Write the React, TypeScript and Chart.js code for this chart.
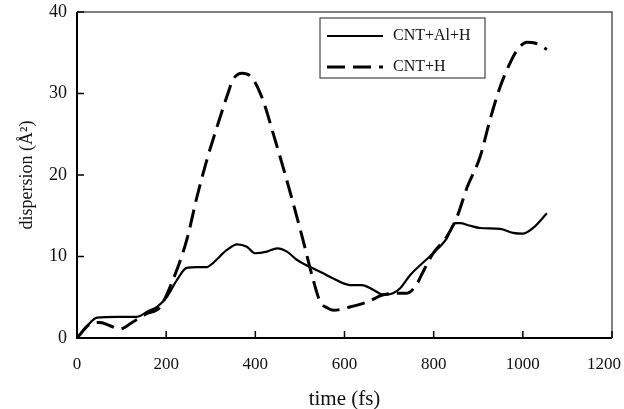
import React, { useEffect, useRef } from "react";
import { Chart, registerables } from "chart.js";

Chart.register(...registerables);

const seriesLabels = ["CNT+Al+H", "CNT+H"];

const timeAlH = [0, 20, 45, 90, 134, 160, 179, 201, 224, 246, 270, 291, 305, 336, 359, 381, 399, 426, 449, 471, 493, 523, 550, 575, 612, 639, 665, 687, 709, 725, 747, 775, 799, 829, 848, 859, 880, 904, 949, 978, 1000, 1023, 1054];
const dispAlH = [0, 1.3, 2.5, 2.6, 2.6, 3.3, 3.8, 5.0, 7.1, 8.6, 8.7, 8.7, 9.2, 10.8, 11.5, 11.2, 10.4, 10.6, 11.0, 10.6, 9.6, 8.7, 8.0, 7.3, 6.5, 6.5, 5.9, 5.3, 5.5, 6.1, 7.7, 9.2, 10.4, 12.2, 14.1, 14.1, 13.8, 13.5, 13.4, 12.9, 12.8, 13.5, 15.3];

const timeH = [0, 29, 52, 74, 96, 126, 157, 186, 215, 246, 269, 291, 314, 336, 350, 370, 393, 417, 440, 462, 485, 507, 530, 545, 561, 575, 612, 650, 687, 725, 740, 763, 776, 799, 829, 852, 875, 904, 926, 949, 971, 987, 1009, 1027, 1054];
const dispH = [0, 1.7, 1.9, 1.5, 1.1, 2.0, 3.0, 3.8, 7.1, 12.0, 17.3, 21.8, 25.9, 29.6, 31.7, 32.5, 31.9, 29.2, 25.1, 21.0, 16.5, 12.0, 7.1, 4.5, 3.7, 3.4, 3.8, 4.4, 5.3, 5.5, 5.5, 6.7, 8.1, 10.4, 12.4, 14.8, 18.5, 22.2, 26.7, 30.8, 33.7, 35.3, 36.3, 36.2, 35.4];

const xTicks = [0, 200, 400, 600, 800, 1000, 1200];
const yTicks = [0, 10, 20, 30, 40];
const xTitle = "time (fs)";
const yTitle = "dispersion (Å²)";

const FONT = "'Liberation Serif', 'DejaVu Serif', serif";

const framePlugin = {
  id: "frame",
  afterDraw(chart: any) {
    const { ctx, chartArea: a, scales, width } = chart;
    ctx.save();
    ctx.lineWidth = 1.5;
    ctx.strokeStyle = "#555";
    ctx.beginPath();
    ctx.moveTo(a.left, a.top);
    ctx.lineTo(a.right, a.top);
    ctx.lineTo(a.right, a.bottom);
    ctx.stroke();
    ctx.strokeStyle = "#000";
    ctx.lineWidth = 2;
    ctx.beginPath();
    ctx.moveTo(a.left, a.top);
    ctx.lineTo(a.left, a.bottom);
    ctx.lineTo(a.right, a.bottom);
    ctx.stroke();
    ctx.lineWidth = 1.5;
    const xs = scales.x;
    ctx.font = "17px " + FONT;
    ctx.fillStyle = "#111";
    ctx.textAlign = "center";
    ctx.textBaseline = "middle";
    xs.ticks.forEach((t: any) => {
      const px = xs.getPixelForValue(t.value);
      ctx.beginPath();
      ctx.moveTo(px, a.bottom);
      ctx.lineTo(px, a.bottom - 7);
      ctx.stroke();
      const label = String(t.value);
      const w = ctx.measureText(label).width;
      const cx = Math.min(px, width - w / 2 - 3);
      ctx.fillText(label, cx, a.bottom + 27);
    });
    const ys = scales.y;
    ys.ticks.forEach((t: any) => {
      const py = ys.getPixelForValue(t.value);
      ctx.beginPath();
      ctx.moveTo(a.left, py);
      ctx.lineTo(a.left + 7, py);
      ctx.stroke();
    });
    const lx = 320, ly = 18, lw = 165, lh = 60;
    ctx.strokeStyle = "#444";
    ctx.lineWidth = 1.2;
    ctx.strokeRect(lx, ly, lw, lh);
    ctx.font = "16px " + FONT;
    ctx.textAlign = "left";
    chart.data.datasets.forEach((ds: any, i: number) => {
      const yy = ly + 18 + i * 31;
      ctx.strokeStyle = "#000";
      ctx.lineWidth = ds.borderWidth;
      ctx.setLineDash(ds.borderDash || []);
      ctx.beginPath();
      ctx.moveTo(lx + 7, yy);
      ctx.lineTo(lx + 63, yy);
      ctx.stroke();
      ctx.setLineDash([]);
      ctx.fillText(ds.label, lx + 73, yy);
    });
    ctx.restore();
  },
};

export default function App() {
  const ref = useRef<HTMLCanvasElement | null>(null);
  useEffect(() => {
    if (!ref.current) return;
    const chart = new Chart(ref.current, {
      type: "line",
      data: {
        datasets: [
          {
            label: seriesLabels[0],
            data: timeAlH.map((x, i) => ({ x, y: dispAlH[i] })),
            borderColor: "#000",
            borderWidth: 2.2,
            pointRadius: 0,
            tension: 0.4,
            cubicInterpolationMode: "monotone",
            fill: false,
          },
          {
            label: seriesLabels[1],
            data: timeH.map((x, i) => ({ x, y: dispH[i] })),
            borderColor: "#000",
            borderWidth: 3,
            borderDash: [18, 8],
            pointRadius: 0,
            tension: 0.4,
            cubicInterpolationMode: "monotone",
            fill: false,
          },
        ],
      },
      options: {
        animation: false,
        responsive: false,
        maintainAspectRatio: false,
        layout: { padding: { left: 0, top: 12, right: 12, bottom: 0 } },
        plugins: { legend: { display: false }, tooltip: { enabled: false } },
        scales: {
          x: {
            type: "linear",
            min: 0,
            max: 1200,
            afterBuildTicks: (s: any) => {
              s.ticks = xTicks.map((v) => ({ value: v }));
            },
            afterFit: (s: any) => {
              s.height = 71;
              s.paddingLeft = 0;
              s.paddingRight = 0;
            },
            grid: { display: false, drawTicks: false },
            border: { display: false },
            ticks: { display: false },
            title: { display: true, text: xTitle, color: "#111", font: { family: FONT, size: 21 }, padding: { top: 0, bottom: -3 } },
          },
          y: {
            min: 0,
            max: 40,
            afterBuildTicks: (s: any) => {
              s.ticks = yTicks.map((v) => ({ value: v }));
            },
            afterFit: (s: any) => {
              s.width = 77;
              s.paddingTop = 0;
              s.paddingBottom = 0;
            },
            grid: { display: false, drawTicks: false },
            border: { display: false },
            ticks: { color: "#111", font: { family: FONT, size: 18 }, padding: 10, callback: (v: any) => String(v) },
            title: { display: true, text: yTitle, color: "#111", font: { family: FONT, size: 18 }, padding: { top: 16, bottom: 0 } },
          },
        },
      },
      plugins: [framePlugin],
    } as any);
    return () => chart.destroy();
  }, []);
  return (
    <div style={{ position: "fixed", left: 0, top: 0, width: 624, height: 409, background: "#fff" }}>
      <canvas ref={ref} width={624} height={409} style={{ width: 624, height: 409 }} />
    </div>
  );
}
